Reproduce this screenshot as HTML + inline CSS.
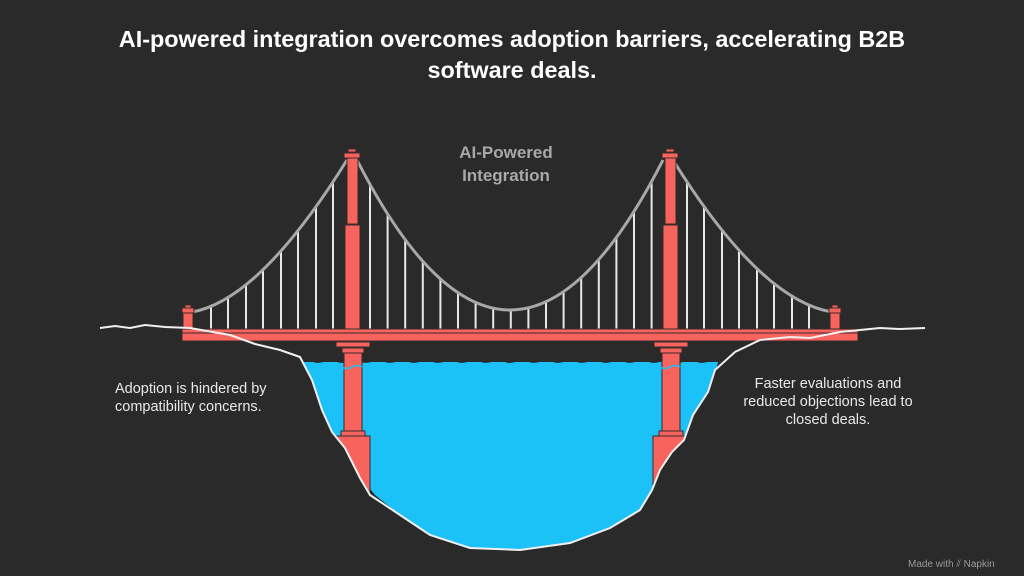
<!DOCTYPE html>
<html><head><meta charset="utf-8"><style>
html,body{margin:0;padding:0;background:#2a2a2a;width:1024px;height:576px;overflow:hidden}
svg{display:block}
</style></head><body>
<svg id="s" width="1024" height="576" viewBox="0 0 1024 576" xmlns="http://www.w3.org/2000/svg">
<defs>
<clipPath id="inb"><path d="M300,300 L718,300 L718,362 L715,370 L708,392 L693,415 L684,440 L672,452 L660,470 L652,490 L640,510 L610,528 L570,543 L520,550 L470,548 L430,535 L400,515 L370,495 L360,478 L352,462 L345,448 L332,432 L322,410 L312,380 L300,357 Z"/></clipPath>
</defs>
<rect width="1024" height="576" fill="#2a2a2a"/>
<text x="512" y="47" text-anchor="middle" fill="#fff" font-family="Liberation Sans, sans-serif" font-weight="bold" font-size="23.4">AI-powered integration overcomes adoption barriers, accelerating B2B</text>
<text x="512" y="78" text-anchor="middle" fill="#fff" font-family="Liberation Sans, sans-serif" font-weight="bold" font-size="23.4">software deals.</text>
<text x="506" y="158" text-anchor="middle" fill="#a8a8a8" font-family="Liberation Sans, sans-serif" font-weight="bold" font-size="17">AI-Powered</text>
<text x="506" y="181" text-anchor="middle" fill="#a8a8a8" font-family="Liberation Sans, sans-serif" font-weight="bold" font-size="17">Integration</text>
<!-- water -->
<path d="M300,362 L718,362 L712,385 L700,410 L690,435 L680,450 L672,470 L660,490 L640,510 L610,528 L570,543 L520,550 L470,548 L430,535 L400,515 L375,495 L355,470 L335,440 L322,410 L310,385 Z" fill="#1bc1f7"/>
<path d="M300,361 q6,-3 12,0 t12,0 t12,0 t12,0 t12,0 t12,0 t12,0 t12,0 t12,0 t12,0 t12,0 t12,0 t12,0 t12,0 t12,0 t12,0 t12,0 t12,0 t12,0 t12,0 t12,0 t12,0 t12,0 t12,0 t12,0 t12,0 t12,0 t12,0 t12,0 t12,0 t12,0 t12,0 t12,0 t12,0 t12,0" fill="none" stroke="#2a2a2a" stroke-width="1"/>
<!-- land -->
<path d="M0,576 L0,330 L100,328 L115,326 L130,328 L145,325 L165,327 L190,328 L230,335 L255,344 L280,350 L300,357 L312,380 L322,410 L332,432 L345,448 L352,462 L360,478 L370,495 L400,515 L430,535 L470,548 L520,550 L570,543 L610,528 L640,510 L652,490 L660,470 L672,452 L684,440 L693,415 L708,392 L715,370 L735,352 L760,340 L790,337 L810,338 L840,332 L860,330 L880,328 L900,329 L925,328 L1024,330 L1024,576 Z" fill="#2a2a2a" stroke="none"/>
<g id="sus" stroke="#e8e8e8" stroke-width="2"></g>
<!-- cables -->
<path d="M357,160 Q510,460 663,160" fill="none" stroke="#a8a8a8" stroke-width="3"/>
<path d="M347,160 Q260,300 192,312" fill="none" stroke="#a8a8a8" stroke-width="3"/>
<path d="M673,160 Q760,300 832,312" fill="none" stroke="#a8a8a8" stroke-width="3"/>
<g fill="#f7645e" stroke="#3a2a2a" stroke-width="1">
<g clip-path="url(#inb)">
<rect x="336" y="436" width="34" height="60"/>
<rect x="653" y="436" width="35" height="60"/>
</g>
<!-- deck -->
<rect x="182" y="329" width="676" height="4"/>
<rect x="182" y="333" width="676" height="8"/>
<!-- left tower -->
<rect x="348" y="149" width="8" height="3"/>
<rect x="344" y="153" width="16" height="5"/>
<rect x="347" y="158" width="11" height="66"/>
<rect x="345" y="225" width="15" height="104"/>
<rect x="336" y="342" width="34" height="5"/>
<rect x="342" y="348" width="22" height="5"/>
<rect x="344" y="353" width="18" height="78"/>
<rect x="341" y="431" width="24" height="5"/>
<!-- right tower -->
<rect x="666" y="149" width="8" height="3"/>
<rect x="662" y="153" width="16" height="5"/>
<rect x="665" y="158" width="11" height="66"/>
<rect x="663" y="225" width="15" height="104"/>
<rect x="654" y="342" width="34" height="5"/>
<rect x="660" y="348" width="22" height="5"/>
<rect x="662" y="353" width="18" height="78"/>
<rect x="659" y="431" width="24" height="5"/>
<!-- end towers -->
<rect x="185" y="305" width="6" height="3"/>
<rect x="182" y="308" width="12" height="5"/>
<rect x="183" y="313" width="10" height="16"/>
<rect x="832" y="305" width="6" height="3"/>
<rect x="829" y="308" width="12" height="5"/>
<rect x="830" y="313" width="10" height="16"/>
</g>
<path d="M100,328 L115,326 L130,328 L145,325 L165,327 L190,328 L230,335 L255,344 L280,350 L300,357 L312,380 L322,410 L332,432 L345,448 L352,462 L360,478 L370,495 L400,515 L430,535 L470,548 L520,550 L570,543 L610,528 L640,510 L652,490 L660,470 L672,452 L684,440 L693,415 L708,392 L715,370 L735,352 L760,340 L790,337 L810,338 L840,332 L860,330 L880,328 L900,329 L925,328" fill="none" stroke="#f0f0f0" stroke-width="2"/>
<path d="M342,367 q5,3 10,0 t10,0" fill="none" stroke="#1bc1f7" stroke-width="1.5"/>
<path d="M660,367 q5,3 10,0 t10,0" fill="none" stroke="#1bc1f7" stroke-width="1.5"/>
<g fill="#e8e8e8" font-family="Liberation Sans, sans-serif" font-size="14.5">
<text x="115" y="393">Adoption is hindered by</text>
<text x="115" y="411">compatibility concerns.</text>
<text x="828" y="388" text-anchor="middle">Faster evaluations and</text>
<text x="828" y="406" text-anchor="middle">reduced objections lead to</text>
<text x="828" y="424" text-anchor="middle">closed deals.</text>
</g>
<text x="908" y="567" fill="#9a9a9a" font-family="Liberation Sans, sans-serif" font-size="10">Made with ⫽ Napkin</text>
</svg>
<script>
var g=document.getElementById('sus'),ns='http://www.w3.org/2000/svg';
function cy(x){var t=(x-357)/306;return (1-t)*(1-t)*160+2*t*(1-t)*460+t*t*160;}
function add(x,y){var l=document.createElementNS(ns,'line');l.setAttribute('x1',x);l.setAttribute('x2',x);l.setAttribute('y1',y);l.setAttribute('y2',329);g.appendChild(l);}
for(var x=370;x<=652;x+=17.6){add(x,cy(x));}
function side(x0,cx,x1,y0,c,y1,xs){for(var k=0;k<xs.length;k++){var x=xs[k];var lo=0,hi=1;for(var i=0;i<30;i++){var m=(lo+hi)/2;var xm=(1-m)*(1-m)*x0+2*m*(1-m)*cx+m*m*x1;if((xm-x)*(x1-x0)<0)lo=m;else hi=m;}var t=lo;add(x,(1-t)*(1-t)*y0+2*t*(1-t)*c+t*t*y1);}}
side(347,260,192,160,300,312,[333,316,298,281,263,246,228,211]);
side(673,760,832,160,300,312,[687,704,722,739,757,774,792,809]);
</script>
</body></html>
